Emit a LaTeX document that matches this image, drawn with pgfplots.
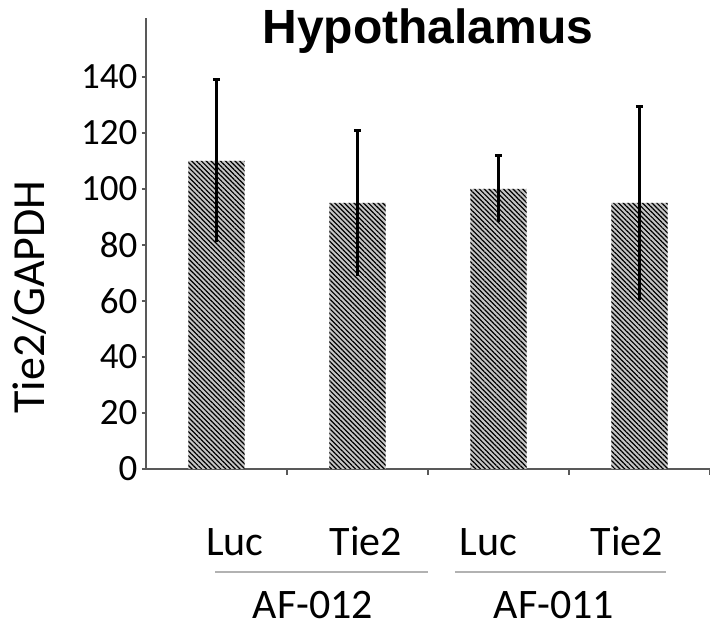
\documentclass[border=0pt]{standalone}
\usepackage{fontspec}
\setmainfont{Carlito}
\newfontfamily\titlefont{Liberation Sans}
\usepackage{pgfplots}
\pgfplotsset{compat=1.18}
\usetikzlibrary{patterns.meta}
\definecolor{axgray}{gray}{0.35}
\begin{document}
\begin{tikzpicture}
\begin{axis}[
  scale only axis,
  width=564pt, height=451pt,
  xmin=-0.5, xmax=3.5, ymin=0, ymax=161,
  axis lines=left,
  axis line style={-, line width=2pt, color=axgray},
  clip=false,
  /pgf/number format/assume math mode=true,
  ytick={0,20,...,140},
  yticklabel style={font=\fontsize{37}{37}\selectfont, xshift=-1pt},
  ytick style={line width=1.5pt, color=axgray},
  major tick length=4pt,
  tick align=outside,
  xtick={0.13,1.06,1.93,2.91},
  xticklabels={Luc,Tie2,Luc,Tie2},
  x tick style={draw=none},
  xticklabel style={font=\fontsize{42}{42}\selectfont, anchor=base, yshift=-83pt},
  extra x ticks={0.5,1.5,2.5,3.5},
  extra x tick labels={},
  extra x tick style={x tick style={draw=axgray, line width=1.5pt}, major tick length=6pt},
]
\addplot[ybar, bar width=0.4, bar shift=0pt, draw=none,
  fill=gray!45,
  postaction={pattern={Lines[angle=-45, distance=3.4pt, line width=1.2pt]}, pattern color=black},
  error bars/.cd, y dir=plus, y explicit,
  error bar style={line width=3.5pt, black},
  error mark options={rotate=90, mark size=3.5pt, line width=3pt, black}]
  coordinates {(0,110) +- (0,29) (1,95) +- (0,26) (2,100) +- (0,12) (3,95) +- (0,34.5)};
\addplot[draw=none, mark=none, forget plot,
  error bars/.cd, y dir=minus, y explicit,
  error bar style={line width=3.5pt, black},
  error mark=none]
  coordinates {(0,110) +- (0,29) (1,95) +- (0,26) (2,100) +- (0,12) (3,95) +- (0,34.5)};
\node[font=\titlefont\bfseries\fontsize{48}{48}\selectfont, anchor=base] at (axis cs:1.5,151.8) {Hypothalamus};
\node[rotate=90, font=\fontsize{46}{46}\selectfont, anchor=center] at ([xshift=-116pt]rel axis cs:0,0.381) {Tie2/GAPDH};
\draw[line width=2pt, gray!60] (axis cs:-0.01,-36.8) -- (axis cs:1.5,-36.8);
\draw[line width=2pt, gray!60] (axis cs:1.69,-36.8) -- (axis cs:3.19,-36.8);
\node[font=\fontsize{42}{42}\selectfont, anchor=base] at (axis cs:0.684,-53.4) {AF-012};
\node[font=\fontsize{42}{42}\selectfont, anchor=base] at (axis cs:2.394,-53.4) {AF-011};
\end{axis}
\pgfresetboundingbox
\path (-146pt,-159pt) rectangle (564pt,469pt);
\end{tikzpicture}
\end{document}
